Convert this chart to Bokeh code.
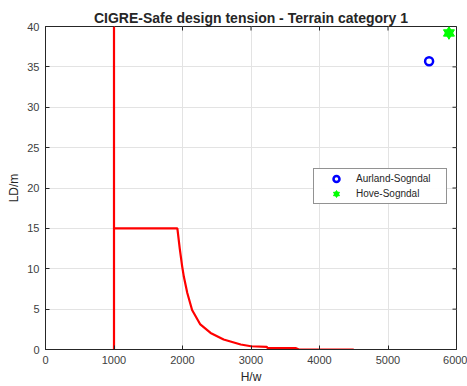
import math
from bokeh.plotting import figure
from bokeh.models import FixedTicker, Range1d, Legend, LegendItem
from bokeh.embed import file_html
from bokeh.resources import INLINE

# ---- data ----
boundary_x = [1000, 1000]
boundary_y = [0, 40]
curve_x = [1000, 1925, 1960, 1995, 2020, 2070, 2140, 2260, 2410, 2600, 2850, 3000, 3230, 3240, 3650, 3700, 4500]
curve_y = [15.0, 15.0, 12.5, 10.3, 9.0, 7.0, 4.9, 3.1, 2.05, 1.23, 0.62, 0.40, 0.33, 0.20, 0.18, 0.0, 0.0]
aurland_x = [5600]
aurland_y = [35.7]
hove_x = [5890]
hove_y = [39.2]
x_ticks = [0, 1000, 2000, 3000, 4000, 5000, 6000]
y_ticks = [0, 5, 10, 15, 20, 25, 30, 35, 40]

FONT = "Liberation Sans"
AX = "#262626"

p = figure(width=467, height=386, output_backend="svg", toolbar_location=None,
           x_range=Range1d(0, 6000), y_range=Range1d(0, 40),
           title="CIGRE-Safe design tension - Terrain category 1",
           x_axis_label="H/w", y_axis_label="LD/m",
           min_border_left=45, min_border_right=11, min_border_top=26, min_border_bottom=36)
p.outline_line_color = AX
p.background_fill_color = "white"
p.border_fill_color = "white"

p.title.align = "center"
p.title.text_font = FONT
p.title.text_font_size = "14px"
p.title.text_font_style = "bold"
p.title.text_color = AX
p.title.standoff = 1

for ax in (p.xaxis[0], p.yaxis[0]):
    ax.major_tick_in = 4
    ax.major_tick_out = 0
    ax.minor_tick_in = 0
    ax.minor_tick_out = 0
    ax.axis_line_color = AX
    ax.major_tick_line_color = AX
    ax.major_label_text_font = FONT
    ax.major_label_text_font_size = "11px"
    ax.major_label_text_color = "#404040"
    ax.axis_label_text_font = FONT
    ax.axis_label_text_font_size = "12px"
    ax.axis_label_text_font_style = "normal"
    ax.axis_label_text_color = AX
    ax.major_label_standoff = 6
    ax.axis_label_standoff = 3
p.xaxis[0].ticker = FixedTicker(ticks=x_ticks)
p.yaxis[0].ticker = FixedTicker(ticks=y_ticks)

p.xgrid.ticker = FixedTicker(ticks=x_ticks)
p.ygrid.ticker = FixedTicker(ticks=y_ticks)
p.xgrid.grid_line_color = "#e3e3e3"
p.ygrid.grid_line_color = "#e3e3e3"

# inward tick marks on top and right edges (half of each dash is clipped by the frame)
p.scatter(x_ticks, [y_ticks[-1]] * len(x_ticks), marker="dash", angle=math.pi / 2,
          size=8, line_color=AX, line_width=1)
p.scatter([x_ticks[-1]] * len(y_ticks), y_ticks, marker="dash",
          size=8, line_color=AX, line_width=1)

p.line(boundary_x, boundary_y, line_color="#ff0000", line_width=2.2)
p.line(curve_x, curve_y, line_color="#ff0000", line_width=2.2)

r_a = p.scatter(aurland_x, aurland_y, marker="circle", size=8, fill_color=None,
                line_color="#0000ff", line_width=2.5)
r_h1 = p.scatter(hove_x, hove_y, marker="triangle", size=11, fill_color="#00ff00",
                 line_color="#00ff00", line_width=1)
r_h2 = p.scatter(hove_x, hove_y, marker="inverted_triangle", size=11, fill_color="#00ff00",
                 line_color="#00ff00", line_width=1)

legend = Legend(items=[LegendItem(label="Aurland-Sogndal", renderers=[r_a]),
                       LegendItem(label="Hove-Sogndal", renderers=[r_h1, r_h2])],
                location=(268, 145))
legend.label_text_font = FONT
legend.label_text_font_size = "10px"
legend.label_text_color = AX
legend.glyph_width = 40
legend.glyph_height = 15
legend.label_height = 15
legend.label_width = 88
legend.spacing = 0
legend.padding = 2
legend.margin = 0
legend.label_standoff = 0
legend.border_line_color = AX
legend.border_line_width = 1
p.add_layout(legend)

open("out.html", "w").write(file_html(p, INLINE))
